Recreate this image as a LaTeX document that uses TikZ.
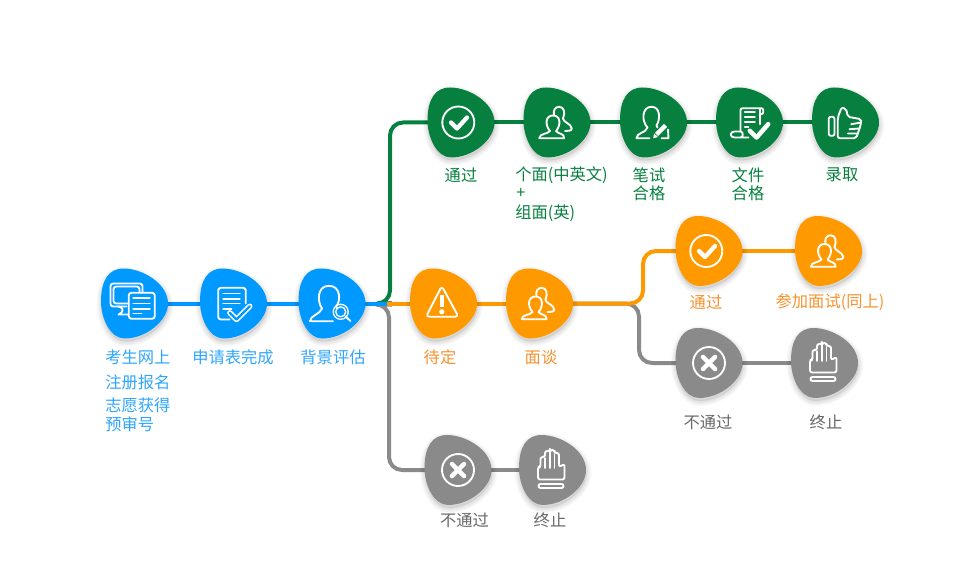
\documentclass[tikz,border=0pt]{standalone}
\usepackage{fontspec}
\setmainfont{Noto Sans CJK SC}
\usepackage{tikz}
\usetikzlibrary{positioning}

\definecolor{stepblue}{HTML}{0099FF}
\definecolor{stepgreen}{HTML}{07803F}
\definecolor{steporange}{HTML}{FF9900}
\definecolor{stepgray}{HTML}{8A8A8A}
\definecolor{textblue}{HTML}{2FA6FB}
\definecolor{textorange}{HTML}{F5922E}
\definecolor{textgray}{HTML}{686868}

\pgfdeclarelayer{bg}
\pgfsetlayers{bg,main}

\def\blobpath{(-33.5,-2) .. controls (-33.5,-23) and (-26,-35) .. (-11,-35) .. controls (8,-35) and (33.5,-20) .. (33.5,0) .. controls (33.5,17) and (12,35) .. (-10,35) .. controls (-24,35) and (-33.5,15) .. (-33.5,-2) -- cycle}

\tikzset{
	stepnode/.style={circle,inner sep=0pt,minimum size=20pt},
	steplabel/.style={inner sep=0pt,font=\fontsize{12.2pt}{12.2pt}\selectfont},
	flow/.style={line width=3pt},
	iconline/.style={draw=white,line width=1.4pt,line join=round,line cap=round,fill=none},
	blob/.pic={
		\foreach \w in {10,8,6,4,2}
			\path[draw=black,line width=\w*0.75pt,opacity=0.022,shift={(0.5,3)}] \blobpath;
		\fill[black,opacity=0.08,shift={(0.5,3)}] \blobpath;
		\fill[#1] \blobpath;
	},
	iconcheck/.pic={
		\draw[iconline] (-2.7,0) circle (16);
		\draw[iconline,line width=3.2pt] (-10,0) -- (-4,6) -- (6,-5);
	},
	iconcross/.pic={
		\draw[iconline] (0,0) circle (16);
		\draw[iconline,line width=3.4pt] (-6,-6) -- (6,6) (-6,6) -- (6,-6);
	},
	iconpair/.pic={
		\draw[iconline] (-17.7,15.7) .. controls (-17.7,11) and (-9,11.5) .. (-7,8.5) .. controls (-12,3) and (-12,-7) .. (-4,-7) .. controls (4,-7) and (4,3) .. (-1,8.5) .. controls (1,11.5) and (8,11) .. (7,15.7) -- cycle;
		\draw[iconline] (-3,-7.5) .. controls (-4,-12) and (-2,-15.7) .. (2,-15.7) .. controls (7,-15.7) and (8.5,-10) .. (6,-4) .. controls (6,0) and (14.5,1) .. (14.7,6) .. controls (14.7,8.5) and (11,8.5) .. (8,8.5);
	},
	iconsearch/.pic={
		\draw[iconline] (1,17.7) -- (-22,17.7) .. controls (-22,12) and (-12,11) .. (-10,5) .. controls (-15,-2) and (-15,-17.7) .. (-3,-17.7) .. controls (9,-17.7) and (9,-2) .. (4,3) -- (5,5);
		\draw[iconline,line width=1pt] (8.7,8.3) circle (7.5) (8.7,8.3) circle (5);
		\draw[iconline] (13.5,13) -- (18.5,17.5);
	},
	iconscreens/.pic={
		\draw[iconline,rounded corners=2pt] (8,-11) -- (8,-20) -- (-24,-20) -- (-24,3) -- (-8,3);
		\draw[iconline,rounded corners=2pt] (5,-11) -- (5,-17) -- (-21,-17) -- (-21,0) -- (-6,0);
		\draw[iconline] (-16,3) .. controls (-11,4) and (-10,8) .. (-16,11) -- (-6,11);
		\draw[iconline,rounded corners=2pt] (-5.7,-10.7) rectangle (20.3,15.3);
		\draw[iconline] (-1.3,-5.7) -- (15.3,-5.7) (-1.3,0) -- (15.3,0) (-1.3,5.3) -- (15.3,5.3) (-1.3,10) -- (7,10);
	},
	iconform/.pic={
		\draw[iconline,rounded corners=2pt] (12.3,0) -- (12.3,-15.7) -- (-15.3,-15.7) -- (-15.3,16) -- (-4,16);
		\draw[iconline] (-10.3,-10) -- (6.3,-10) (-10.3,-4.7) -- (6.3,-4.7) (-10.3,0) -- (6.3,0) (-10.3,5.3) -- (-2,5.3);
		\draw[iconline,line width=4pt] (-3.7,9.3) -- (3,16) -- (16.3,2.7);
		\draw[draw=stepblue,line width=1.6pt,line join=round,line cap=round] (-3.7,9.3) -- (3,16) -- (16.3,2.7);
	},
	iconpen/.pic={
		\draw[iconline] (-4,15.7) -- (-17,15.7) .. controls (-17,10) and (-8,11) .. (-6,5) .. controls (-12,-1) and (-12,-15.7) .. (-2,-15.7) .. controls (7,-15.7) and (7,-3) .. (3,3) -- (4,5);
		\draw[iconline,line width=3.2pt,line cap=butt] (3,12) -- (12,3);
		\fill[white] (-0.3,15.7) -- (0.5,11) -- (4.5,14.5) -- cycle;
		\draw[iconline] (14.5,7) -- (15,15.7) -- (8,15.7);
	},
	iconscroll/.pic={
		\draw[iconline,rounded corners=1.5pt] (-9,9) -- (-9,-14.3) -- (13.7,-14.3) -- (13.7,-8.3) -- (10.3,-8.3);
		\draw[iconline] (10.3,-14) -- (10.3,1.7);
		\draw[iconline] (-1,15) -- (-15,15) .. controls (-20,15) and (-20,9) .. (-15,9) -- (-9,9) .. controls (-6,9) and (-6,15) .. (-9,15);
		\draw[iconline] (-4.7,-10.5) -- (5.3,-10.5) (-4.7,-5.7) -- (5.3,-5.7) (-4.7,-0.7) -- (5.3,-0.7) (-4.7,4.3) -- (-1,4.3);
		\draw[iconline,line width=3.4pt] (0.3,8.3) -- (7,15) -- (18.7,1.7);
	},
	iconthumb/.pic={
		\draw[iconline,rounded corners=1.5pt] (-16.7,-5.7) rectangle (-11,13.3);
		\draw[iconline,rounded corners=1.5pt] (-7.7,15.7) -- (-7.7,-5) -- (-4,-15) -- (0.7,-13.5) -- (2.3,-5.7) -- (15.7,-3.3) -- (15.7,0) -- (14,6) -- (12.3,11) -- (10.7,15.7) -- cycle;
		\draw[iconline] (5.7,1.7) -- (15.7,0) (4,6.7) -- (14,6) (2.3,11) -- (12.3,11);
	},
	iconwarn/.pic={
		\draw[iconline,rounded corners=2.5pt] (-1.7,-17.5) -- (-17.5,13.3) -- (15,13.3) -- cycle;
		\draw[iconline,line width=2.8pt,line cap=butt] (-1.7,-9) -- (-1.7,3);
		\fill[white] (-1.7,8.3) circle (2.6);
	},
	iconhand/.pic={
		\draw[iconline,rounded corners=1.6pt] (-14.5,9.5) -- (-14.5,-3) -- (-12,-3) -- (-12,-13) -- (-7.5,-13) -- (-7.5,-19) -- (-2.5,-19) -- (-2.5,-20) -- (2,-20) -- (2,-17) -- (6.5,-17) -- (6.5,-3) -- (12,-6) -- (12,9.5) -- cycle;
		\draw[iconline] (-7.5,-12) -- (-7.5,-2) (-2.5,-18) -- (-2.5,-2) (2,-16) -- (2,-2);
		\draw[iconline,rounded corners=1.5pt] (-14,14) rectangle (11,18);
	}
}

\begin{document}
\begin{tikzpicture}[x=0.75pt,y=-0.75pt]
	\useasboundingbox (0,0) rectangle (962,581);

	% steps
	\foreach \name/\x/\y/\col/\icon in {
		apply/134.5/303.5/stepblue/iconscreens,form/233.5/303.5/stepblue/iconform,review/332/303.5/stepblue/iconsearch,
		pass/461/122.5/stepgreen/iconcheck,talk/557/122.5/stepgreen/iconpair,write/653.5/122.5/stepgreen/iconpen,
		papers/749.5/122.5/stepgreen/iconscroll,admit/845.5/122.5/stepgreen/iconthumb,
		hold/443.5/303.5/steporange/iconwarn,meet/539.5/303.5/steporange/iconpair,
		holdpass/709/251/steporange/iconcheck,holdtalk/828.5/251/steporange/iconpair,
		holdfail/709/363/stepgray/iconcross,holdstop/824.5/363/stepgray/iconhand,
		fail/458/470/stepgray/iconcross,stop/552.5/470/stepgray/iconhand}
	{
		\node[stepnode] (\name) at (\x,\y) {};
		\pic at (\name) {blob=\col};
		\pic at (\name) {\icon};
	}

	\coordinate (fork) at (387,303.5);
	\coordinate (upper) at (390,122.5);
	\coordinate (lower) at (389,470);
	\coordinate (holdup) at (643,251);
	\coordinate (holddown) at (639,363);

	% connectors
	\begin{pgfonlayer}{bg}
		\draw[flow,stepgray,rounded corners=13*0.75pt] (fork) -- ++(-8,1) -| (lower) -- (fail);
		\draw[flow,stepgray] (fail) -- (stop);
		\draw[flow,stepgray,rounded corners=13*0.75pt] (meet) -| (holddown) -- (holdfail);
		\draw[flow,stepgray] (holdfail) -- (holdstop);
		\draw[flow,stepgreen,rounded corners=13*0.75pt] (fork) -- ++(-8,0) -| (upper) -- (pass);
		\draw[flow,stepgreen] (pass) -- (talk);
		\draw[flow,stepgreen] (talk) -- (write);
		\draw[flow,stepgreen] (write) -- (papers);
		\draw[flow,stepgreen] (papers) -- (admit);
		\draw[flow,steporange] (fork) -- (hold);
		\draw[flow,steporange] (hold) -- (meet);
		\draw[flow,steporange,rounded corners=13*0.75pt] (meet) -| (holdup) -- (holdpass);
		\draw[flow,steporange] (holdpass) -- (holdtalk);
		\draw[flow,stepblue] (apply) -- (form);
		\draw[flow,stepblue] (form) -- (review);
		\draw[flow,stepblue] (review) -- (fork);
	\end{pgfonlayer}

	% labels
	\foreach \name/\x/\y/\col/\txt in {
		formtext/233/357/textblue/申请表完成,reviewtext/333/357/textblue/背景评估,
		passtext/461/175/stepgreen/通过,writetext/649/175/stepgreen/笔试,writetextb/649/193/stepgreen/合格,
		paperstext/748/175/stepgreen/文件,paperstextb/748/193/stepgreen/合格,admittext/842/175/stepgreen/录取,
		holdtext/440/357/textorange/待定,meettext/541/357/textorange/面谈,
		holdpasstext/706/302/textorange/通过,holdtalktext/830/302/textorange/参加面试(同上),
		holdfailtext/708/422/textgray/不通过,holdstoptext/826/422/textgray/终止,
		failtext/464.5/520/textgray/不通过,stoptext/550/520/textgray/终止}
	{
		\node[steplabel,text=\col] (\name) at (\x,\y) {\txt};
	}
	\foreach \name/\x/\y/\col/\txt in {
		applytext/105/357/textblue/考生网上,applytextb/105/382/textblue/注册报名,
		applytextc/105/405/textblue/志愿获得,applytextd/105/424/textblue/预审号,
		talktext/515/175/stepgreen/个面(中英文),talktextb/516/193/stepgreen/+,talktextc/515/213/stepgreen/组面(英)}
	{
		\node[steplabel,text=\col,anchor=west] (\name) at (\x,\y) {\txt};
	}
\end{tikzpicture}
\end{document}
